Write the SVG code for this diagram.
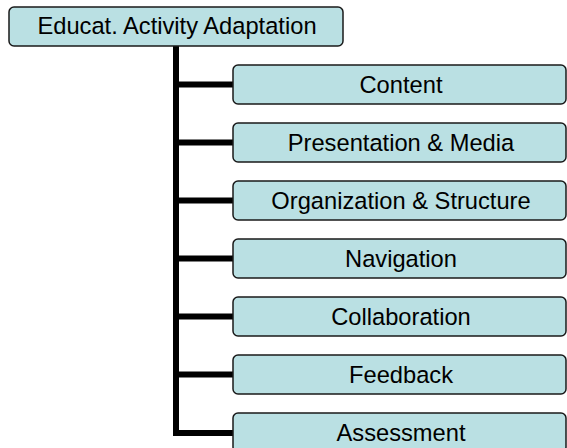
<svg xmlns="http://www.w3.org/2000/svg" width="567" height="448" viewBox="0 0 567 448">
<style>
.box{fill:#BAE0E3;stroke:#1a1a1a;stroke-width:1.5}
.lbl{font-family:"Liberation Sans",Arial,sans-serif;font-size:23.7px;fill:#000;text-anchor:middle}
.conn{fill:none;stroke:#000;stroke-width:6}
</style>
<rect width="567" height="448" fill="#fff"/>
<g id="connectors">
<path class="conn" d="M176,46 V433 H233"/>
<path class="conn" d="M176,84.5 H233"/>
<path class="conn" d="M176,142.5 H233"/>
<path class="conn" d="M176,200.5 H233"/>
<path class="conn" d="M176,258.5 H233"/>
<path class="conn" d="M176,316.5 H233"/>
<path class="conn" d="M176,374.5 H233"/>
</g>
<g id="root"><rect class="box" x="9" y="7" width="334" height="39" rx="5"/><text class="lbl" x="177" y="34">Educat. Activity Adaptation</text></g>
<g id="content"><rect class="box" x="233" y="65" width="333" height="39" rx="5"/><text class="lbl" x="401" y="92.5">Content</text></g>
<g id="presentation"><rect class="box" x="233" y="123" width="333" height="39" rx="5"/><text class="lbl" x="401" y="150.5">Presentation &amp; Media</text></g>
<g id="organization"><rect class="box" x="233" y="181" width="333" height="39" rx="5"/><text class="lbl" x="401" y="208.5">Organization &amp; Structure</text></g>
<g id="navigation"><rect class="box" x="233" y="239" width="333" height="39" rx="5"/><text class="lbl" x="401" y="266.5">Navigation</text></g>
<g id="collaboration"><rect class="box" x="233" y="297" width="333" height="39" rx="5"/><text class="lbl" x="401" y="324.5">Collaboration</text></g>
<g id="feedback"><rect class="box" x="233" y="355" width="333" height="39" rx="5"/><text class="lbl" x="401" y="382.5">Feedback</text></g>
<g id="assessment"><rect class="box" x="233" y="413" width="333" height="39" rx="5"/><text class="lbl" x="401" y="440.5">Assessment</text></g>
</svg>
